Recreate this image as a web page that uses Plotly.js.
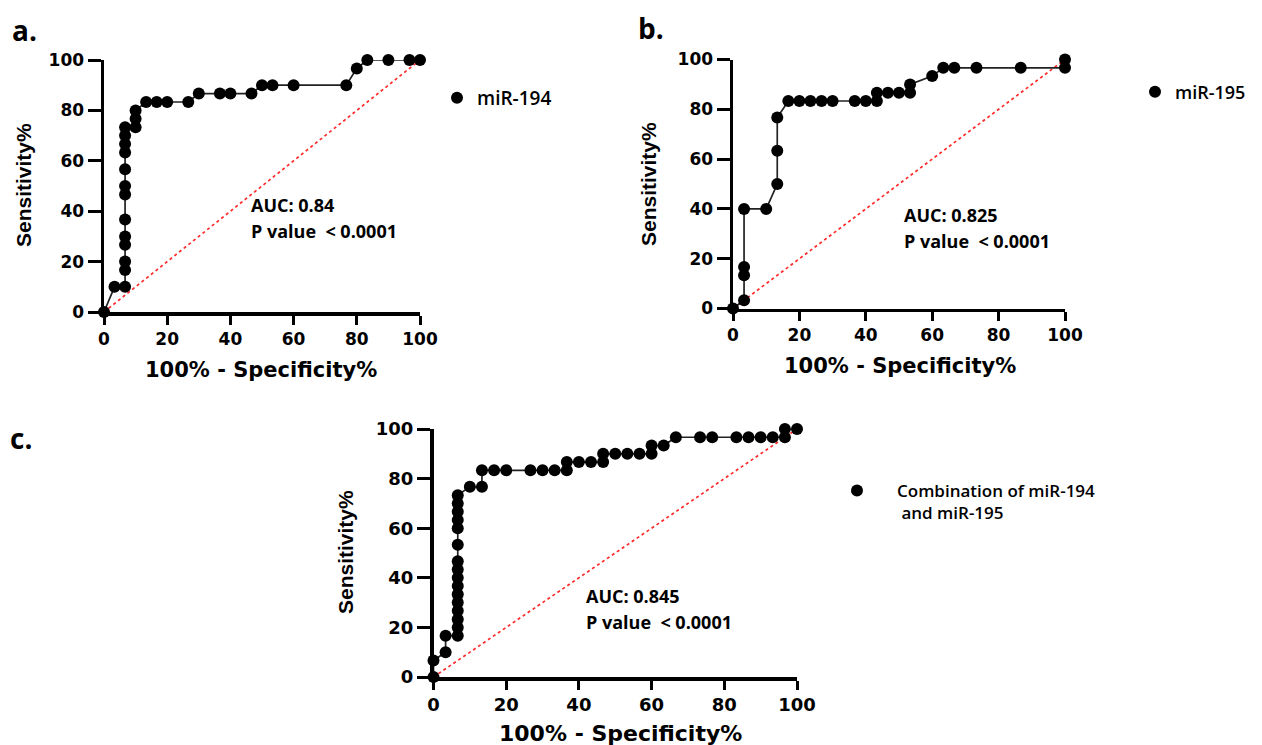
<!DOCTYPE html>
<html>
<head>
<meta charset="utf-8">
<script src="https://cdn.plot.ly/plotly-3.0.1.min.js"></script>
<style>html,body{margin:0;padding:0;background:#fff;}#chart{width:1262px;height:745px;}</style>
</head>
<body>
<div id="chart"></div>
<script>
// ---- Data ----
// Panel a: miR-194
const a_fpr = [0, 3.33, 6.67, 6.67, 6.67, 6.67, 6.67, 6.67, 6.67, 6.67, 6.67, 6.67, 6.67, 6.67, 6.67, 10, 10, 10, 13.33, 16.67, 20, 26.67, 30, 36.67, 40, 46.67, 50, 53.33, 60, 76.67, 80, 83.33, 90, 96.67, 100];
const a_sens = [0, 10, 10, 16.67, 20, 26.67, 30, 36.67, 46.67, 50, 56.67, 63.33, 66.67, 70, 73.33, 73.33, 76.67, 80, 83.33, 83.33, 83.33, 83.33, 86.67, 86.67, 86.67, 86.67, 90, 90, 90, 90, 96.67, 100, 100, 100, 100];
// Panel b: miR-195
const b_fpr = [0, 3.33, 3.33, 3.33, 3.33, 10, 13.33, 13.33, 13.33, 16.67, 20, 23.33, 26.67, 30, 36.67, 40, 43.33, 43.33, 46.67, 50, 53.33, 53.33, 60, 63.33, 66.67, 73.33, 86.67, 100, 100];
const b_sens = [0, 3.33, 13.33, 16.67, 40, 40, 50, 63.33, 76.67, 83.33, 83.33, 83.33, 83.33, 83.33, 83.33, 83.33, 83.33, 86.67, 86.67, 86.67, 86.67, 90, 93.33, 96.67, 96.67, 96.67, 96.67, 96.67, 100];
// Panel c: combination of miR-194 and miR-195
const c_fpr = [0, 0, 3.33, 3.33, 6.67, 6.67, 6.67, 6.67, 6.67, 6.67, 6.67, 6.67, 6.67, 6.67, 6.67, 6.67, 6.67, 6.67, 6.67, 6.67, 10, 13.33, 13.33, 16.67, 20, 26.67, 30, 33.33, 36.67, 36.67, 40, 43.33, 46.67, 46.67, 50, 53.33, 56.67, 60, 60, 63.33, 66.67, 73.33, 76.67, 83.33, 86.67, 90, 93.33, 96.67, 96.67, 100];
const c_sens = [0, 6.67, 10, 16.67, 16.67, 20, 23.33, 26.67, 30, 33.33, 36.67, 40, 43.33, 46.67, 53.33, 60, 63.33, 66.67, 70, 73.33, 76.67, 76.67, 83.33, 83.33, 83.33, 83.33, 83.33, 83.33, 83.33, 86.67, 86.67, 86.67, 86.67, 90, 90, 90, 90, 90, 93.33, 93.33, 96.67, 96.67, 96.67, 96.67, 96.67, 96.67, 96.67, 96.67, 100, 100];
// Reference line
const diag = [0, 100];
// Labels
const seriesNames = ["miR-194", "miR-195", "Combination of miR-194<br> and miR-195"];
const aucTexts = ["AUC: 0.84", "AUC: 0.825", "AUC: 0.845"];
const pTexts = ["P value  < 0.0001", "P value  < 0.0001", "P value  < 0.0001"];
const panelLabels = ["a.", "b.", "c."];
const tickVals = [0, 20, 40, 60, 80, 100];

// ---- Layout helpers (pixel geometry) ----
const W = 1262, H = 745;
const px = v => v / W;
const py = v => 1 - v / H;
// panel boxes: [x0, x100, y0, y100] in pixels
const boxes = [
  [104, 420, 312, 60],
  [733, 1065, 308.5, 59.5],
  [433.5, 797, 677, 429]
];

const markerStyle = {color: "#000", size: 12, symbol: "circle"};
const lineStyle = {color: "#222", width: 1.7};

function roc(x, y, i) {
  const ax = i === 0 ? "" : String(i + 1);
  return {x: x, y: y, type: "scatter", mode: "lines+markers", xaxis: "x" + ax, yaxis: "y" + ax,
    marker: markerStyle, line: lineStyle, showlegend: false, cliponaxis: false, hoverinfo: "x+y"};
}
function diagTrace(i) {
  const ax = i === 0 ? "" : String(i + 1);
  return {x: diag, y: diag, type: "scatter", mode: "lines", xaxis: "x" + ax, yaxis: "y" + ax,
    line: {color: "#ff2a2a", width: 1.7, dash: "dot"}, showlegend: false, cliponaxis: false, hoverinfo: "skip"};
}
function legendTrace(i) {
  const ax = i === 0 ? "" : String(i + 1);
  return {x: [null], y: [null], type: "scatter", mode: "markers", xaxis: "x" + ax, yaxis: "y" + ax,
    marker: markerStyle, name: seriesNames[i], showlegend: true, legend: i === 0 ? "legend" : "legend" + (i + 1)};
}

const data = [
  diagTrace(0), roc(a_fpr, a_sens, 0), legendTrace(0),
  diagTrace(1), roc(b_fpr, b_sens, 1), legendTrace(1),
  diagTrace(2), roc(c_fpr, c_sens, 2), legendTrace(2)
];

const tickFontAB = {family: "DejaVu Sans", size: 17, color: "#000", weight: 700};
const tickFontC = {family: "DejaVu Sans", size: 18, color: "#000", weight: 700};

function xAxis(b, f) {
  return {domain: [px(b[0]), px(b[1])], range: [0, 100], tickvals: tickVals, ticks: "outside", ticklen: 9, tickwidth: 3,
    tickcolor: "#000", showline: true, linecolor: "#000", linewidth: 3.5, showgrid: false, zeroline: false,
    tickfont: f, fixedrange: true};
}
function yAxis(b, f) {
  return {domain: [py(b[2]), py(b[3])], range: [0, 100], tickvals: tickVals, ticks: "outside", ticklen: 13, tickwidth: 3,
    tickcolor: "#000", showline: true, linecolor: "#000", linewidth: 3.5, showgrid: false, zeroline: false,
    tickfont: f, fixedrange: true};
}

const legFont = {family: "Open Sans", size: 19, weight: 600, color: "#000"};
const layout = {
  width: W, height: H,
  margin: {l: 0, r: 0, t: 0, b: 0},
  paper_bgcolor: "#fff", plot_bgcolor: "rgba(0,0,0,0)",
  showlegend: true,
  xaxis: Object.assign(xAxis(boxes[0], tickFontAB), {anchor: "y"}),
  yaxis: Object.assign(yAxis(boxes[0], tickFontAB), {anchor: "x"}),
  xaxis2: Object.assign(xAxis(boxes[1], tickFontAB), {anchor: "y2"}),
  yaxis2: Object.assign(yAxis(boxes[1], tickFontAB), {anchor: "x2"}),
  xaxis3: Object.assign(xAxis(boxes[2], tickFontC), {anchor: "y3"}),
  yaxis3: Object.assign(yAxis(boxes[2], tickFontC), {anchor: "x3"}),
  legend: {x: px(437), y: py(98), xanchor: "left", yanchor: "middle", bgcolor: "rgba(0,0,0,0)", font: legFont},
  legend2: {x: px(1135), y: py(92), xanchor: "left", yanchor: "middle", bgcolor: "rgba(0,0,0,0)",
    font: {family: "Open Sans", size: 18, weight: 600, color: "#000"}},
  legend3: {x: px(817), y: py(502), xanchor: "left", yanchor: "middle", bgcolor: "rgba(0,0,0,0)", valign: "top",
    itemwidth: 70,
    font: {family: "Open Sans", size: 17, weight: 600, color: "#000"}},
  annotations: []
};

const ann = layout.annotations;
function txt(text, x, y, font, extra) {
  ann.push(Object.assign({text: text, xref: "paper", yref: "paper", x: px(x), y: py(y), xanchor: "left", yanchor: "middle",
    showarrow: false, font: font}, extra || {}));
}
const aucFont = {family: "Open Sans", size: 18, weight: 700, color: "#000"};
// AUC / P value
txt(aucTexts[0], 249, 205, aucFont); txt(pTexts[0], 249, 231, aucFont);
txt(aucTexts[1], 902, 215, aucFont); txt(pTexts[1], 902, 241, aucFont);
txt(aucTexts[2], 584, 596, aucFont); txt(pTexts[2], 584, 622, aucFont);
// Panel labels
const lblFont = {family: "Open Sans", size: 28, weight: 700, color: "#000"};
txt(panelLabels[0], 10, 30, lblFont); txt(panelLabels[1], 636, 28, lblFont); txt(panelLabels[2], 8, 438, lblFont);
// Axis titles
const xtFont = {family: "DejaVu Sans", size: 21, weight: 700, color: "#000"};
const xtFontC = {family: "DejaVu Sans", size: 22, weight: 700, color: "#000"};
const ytFont = {family: "Liberation Sans", size: 21, weight: 700, color: "#000"};
txt("100% - Specificity%", 261, 370, xtFont, {xanchor: "center"});
txt("100% - Specificity%", 900, 366, xtFont, {xanchor: "center"});
txt("100% - Specificity%", 620, 733, xtFontC, {xanchor: "center"});
txt("Sensitivity%", 24, 185, ytFont, {xanchor: "center", textangle: -90});
txt("Sensitivity%", 648, 184, ytFont, {xanchor: "center", textangle: -90});
txt("Sensitivity%", 345, 552, ytFont, {xanchor: "center", textangle: -90});

Plotly.newPlot("chart", data, layout, {displayModeBar: false, staticPlot: true});
</script>
</body>
</html>
